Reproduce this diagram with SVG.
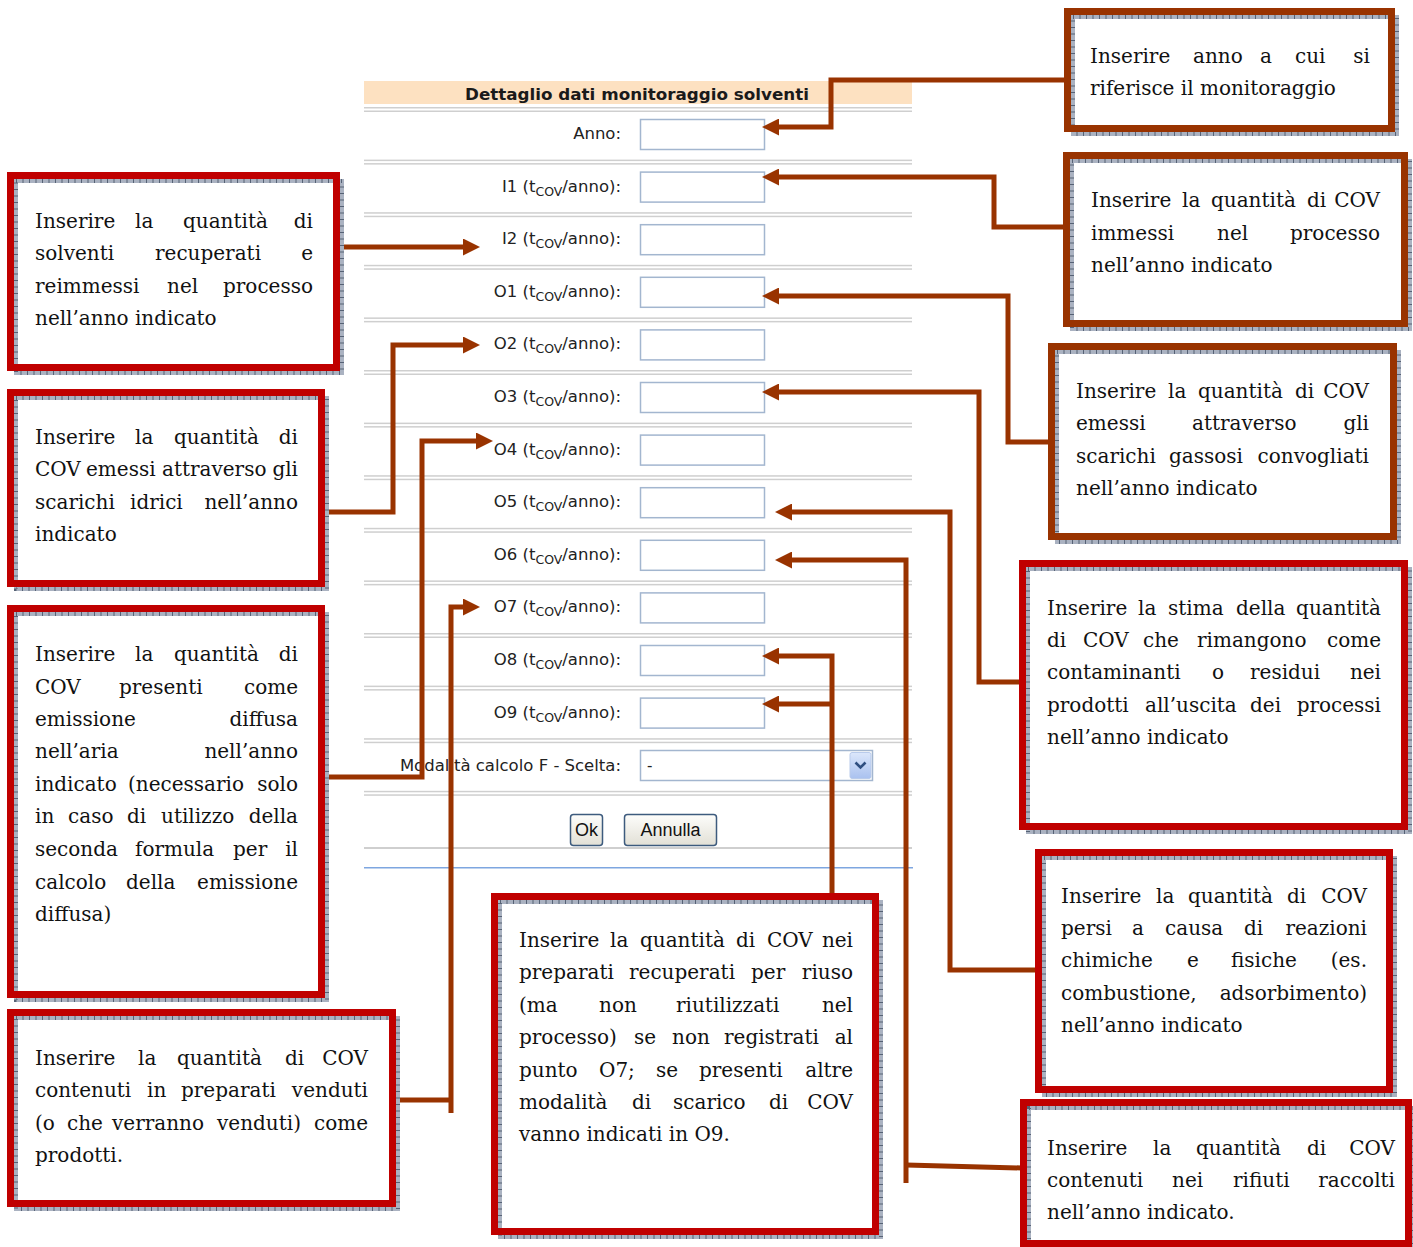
<svg xmlns="http://www.w3.org/2000/svg" width="1413" height="1247" viewBox="0 0 1413 1247">
<style>
.bg{fill:#ffffff}
.sep{fill:#cfcfcf}
.inp{fill:#ffffff;stroke:#a3b6cf;stroke-width:1.5}
.lbl{font-family:"DejaVu Sans",Verdana,sans-serif;font-size:16.5px;fill:#222222;text-anchor:end}
.hdr{font-family:"DejaVu Sans",Verdana,sans-serif;font-size:16px;font-weight:bold;fill:#1a1a1a;text-anchor:middle}
.btn{fill:url(#btnGrad);stroke:#3d5b7e;stroke-width:1.5}
.btxt{font-family:"Liberation Sans",Arial,sans-serif;font-size:18px;fill:#111;text-anchor:middle}
.con{fill:none;stroke:#993300;stroke-width:5;stroke-linejoin:miter}
.arr{marker-end:url(#ah)}
.fill{fill:#ffffff}
.g1{fill:none;stroke:#aab2c1;stroke-width:4}
.g2{fill:none;stroke:#566275;stroke-width:4;stroke-dasharray:1 5.5}
.brn{fill:none;stroke:#993300;stroke-width:7}
.red{fill:none;stroke:#c00000;stroke-width:7}
.t{font-family:"DejaVu Serif","Liberation Serif",serif;font-size:20px;fill:#111}
.e{text-anchor:end}
</style>
<defs>
<linearGradient id="btnGrad" x1="0" y1="0" x2="0" y2="1">
<stop offset="0" stop-color="#fdfdfb"/>
<stop offset="1" stop-color="#e2e0d6"/>
</linearGradient>
<linearGradient id="selGrad" x1="0" y1="0" x2="0" y2="1">
<stop offset="0" stop-color="#dce7fb"/>
<stop offset="1" stop-color="#a9c1ef"/>
</linearGradient>
<marker id="ah" markerUnits="userSpaceOnUse" markerWidth="17" markerHeight="17" refX="7" refY="8.5" orient="auto">
<path d="M0,0 L17,8.5 L0,17 z" fill="#993300"/>
</marker>
</defs>
<rect class="bg" x="0" y="0" width="1413" height="1247"/>

<g id="form">
<rect x="364" y="81" width="548" height="23" fill="#fde1c1"/>
<text class="hdr" x="637" y="100" textLength="344" lengthAdjust="spacingAndGlyphs">Dettaglio dati monitoraggio solventi</text>
<g id="separators">
<rect class="sep" x="364" y="107" width="548" height="1.5"/><rect class="sep" x="364" y="110.5" width="548" height="1.5"/>
<rect class="sep" x="364" y="159.6" width="548" height="1.5"/><rect class="sep" x="364" y="163.1" width="548" height="1.5"/>
<rect class="sep" x="364" y="212.2" width="548" height="1.5"/><rect class="sep" x="364" y="215.7" width="548" height="1.5"/>
<rect class="sep" x="364" y="264.8" width="548" height="1.5"/><rect class="sep" x="364" y="268.3" width="548" height="1.5"/>
<rect class="sep" x="364" y="317.4" width="548" height="1.5"/><rect class="sep" x="364" y="320.9" width="548" height="1.5"/>
<rect class="sep" x="364" y="370" width="548" height="1.5"/><rect class="sep" x="364" y="373.5" width="548" height="1.5"/>
<rect class="sep" x="364" y="422.6" width="548" height="1.5"/><rect class="sep" x="364" y="426.1" width="548" height="1.5"/>
<rect class="sep" x="364" y="475.2" width="548" height="1.5"/><rect class="sep" x="364" y="478.7" width="548" height="1.5"/>
<rect class="sep" x="364" y="527.8" width="548" height="1.5"/><rect class="sep" x="364" y="531.3" width="548" height="1.5"/>
<rect class="sep" x="364" y="580.4" width="548" height="1.5"/><rect class="sep" x="364" y="583.9" width="548" height="1.5"/>
<rect class="sep" x="364" y="633" width="548" height="1.5"/><rect class="sep" x="364" y="636.5" width="548" height="1.5"/>
<rect class="sep" x="364" y="685.6" width="548" height="1.5"/><rect class="sep" x="364" y="689.1" width="548" height="1.5"/>
<rect class="sep" x="364" y="738.2" width="548" height="1.5"/><rect class="sep" x="364" y="741.7" width="548" height="1.5"/>
<rect class="sep" x="364" y="790.8" width="548" height="1.5"/><rect class="sep" x="364" y="794.3" width="548" height="1.5"/>
<rect class="sep" x="364" y="847" width="548" height="2"/>
<rect x="364" y="867" width="549" height="1.5" fill="#7ea6e0"/>
</g>
<g id="row-anno"><text class="lbl" x="621" y="139">Anno:</text><rect class="inp" x="640.5" y="119.5" width="124" height="30"/></g>
<g id="row-i1"><text class="lbl" x="621" y="191.6">I1 (t<tspan dy="4" font-size="12.5">COV</tspan><tspan dy="-4">/anno):</tspan></text><rect class="inp" x="640.5" y="172.1" width="124" height="30"/></g>
<g id="row-i2"><text class="lbl" x="621" y="244.2">I2 (t<tspan dy="4" font-size="12.5">COV</tspan><tspan dy="-4">/anno):</tspan></text><rect class="inp" x="640.5" y="224.7" width="124" height="30"/></g>
<g id="row-o1"><text class="lbl" x="621" y="296.8">O1 (t<tspan dy="4" font-size="12.5">COV</tspan><tspan dy="-4">/anno):</tspan></text><rect class="inp" x="640.5" y="277.3" width="124" height="30"/></g>
<g id="row-o2"><text class="lbl" x="621" y="349.4">O2 (t<tspan dy="4" font-size="12.5">COV</tspan><tspan dy="-4">/anno):</tspan></text><rect class="inp" x="640.5" y="329.9" width="124" height="30"/></g>
<g id="row-o3"><text class="lbl" x="621" y="402">O3 (t<tspan dy="4" font-size="12.5">COV</tspan><tspan dy="-4">/anno):</tspan></text><rect class="inp" x="640.5" y="382.5" width="124" height="30"/></g>
<g id="row-o4"><text class="lbl" x="621" y="454.6">O4 (t<tspan dy="4" font-size="12.5">COV</tspan><tspan dy="-4">/anno):</tspan></text><rect class="inp" x="640.5" y="435.1" width="124" height="30"/></g>
<g id="row-o5"><text class="lbl" x="621" y="507.2">O5 (t<tspan dy="4" font-size="12.5">COV</tspan><tspan dy="-4">/anno):</tspan></text><rect class="inp" x="640.5" y="487.7" width="124" height="30"/></g>
<g id="row-o6"><text class="lbl" x="621" y="559.8">O6 (t<tspan dy="4" font-size="12.5">COV</tspan><tspan dy="-4">/anno):</tspan></text><rect class="inp" x="640.5" y="540.3" width="124" height="30"/></g>
<g id="row-o7"><text class="lbl" x="621" y="612.4">O7 (t<tspan dy="4" font-size="12.5">COV</tspan><tspan dy="-4">/anno):</tspan></text><rect class="inp" x="640.5" y="592.9" width="124" height="30"/></g>
<g id="row-o8"><text class="lbl" x="621" y="665">O8 (t<tspan dy="4" font-size="12.5">COV</tspan><tspan dy="-4">/anno):</tspan></text><rect class="inp" x="640.5" y="645.5" width="124" height="30"/></g>
<g id="row-o9"><text class="lbl" x="621" y="717.6">O9 (t<tspan dy="4" font-size="12.5">COV</tspan><tspan dy="-4">/anno):</tspan></text><rect class="inp" x="640.5" y="698.1" width="124" height="30"/></g>
<g id="row-modalita">
<text class="lbl" x="621" y="771">Modalità calcolo F - Scelta:</text>
<rect class="inp" x="640.5" y="750.5" width="232" height="30"/>
<text x="647" y="771" font-family="DejaVu Sans,Verdana,sans-serif" font-size="15" fill="#222">-</text>
<rect x="850" y="752.5" width="21" height="26" rx="2" fill="url(#selGrad)" stroke="#b9cbeb" stroke-width="1"/>
<path d="M855.5,762.5 L860.5,767.5 L865.5,762.5" fill="none" stroke="#2f4f80" stroke-width="2.6"/>
</g>
<g id="btn-ok"><rect class="btn" x="570.5" y="814.5" width="32" height="31" rx="3"/><text class="btxt" x="586.5" y="836">Ok</text></g>
<g id="btn-annulla"><rect class="btn" x="624.5" y="814.5" width="92" height="31" rx="3"/><text class="btxt" x="670.5" y="836">Annulla</text></g>
</g>

<g id="connectors">
<path class="con arr" d="M1066,80 H831 V127 H772"/>
<path class="con arr" d="M1065,227 H994 V177 H772"/>
<path class="con arr" d="M1050,442 H1008 V296 H772"/>
<path class="con arr" d="M1021,682 H979 V392 H772"/>
<path class="con arr" d="M1037,970 H950 V512 H785"/>
<path class="con arr" d="M906,1183 V560 H785"/>
<path class="con" d="M906,1165 L1022,1168"/>
<path class="con arr" d="M832,894 V656 H772"/>
<path class="con arr" d="M832,704 H772"/>
<path class="con arr" d="M339,247 H470"/>
<path class="con arr" d="M324,512 H393 V345 H470"/>
<path class="con arr" d="M324,777 H422 V441 H483"/>
<path class="con" d="M395,1100 H451"/>
<path class="con arr" d="M451,1113 V607 H470"/>
</g>

<g id="box-anno">
<rect class="fill" x="1064" y="8" width="331" height="124"/>
<path class="g1" d="M1073,17 H1397 V134 H1073 Z"/><path class="g2" d="M1073,17 H1397 V134 H1073 Z"/>
<rect class="brn" x="1067.5" y="11.5" width="324" height="117"/>
<text class="t"><tspan x="1090" y="63">Inserire</tspan><tspan x="1193" y="63">anno</tspan><tspan x="1260" y="63">a</tspan><tspan x="1295" y="63">cui</tspan><tspan class="e" x="1370" y="63">si</tspan><tspan x="1090" y="95">riferisce il monitoraggio</tspan></text>
</g>

<g id="box-i1">
<rect class="fill" x="1063" y="152" width="345" height="175"/>
<path class="g1" d="M1072,161 H1410 V329 H1072 Z"/><path class="g2" d="M1072,161 H1410 V329 H1072 Z"/>
<rect class="brn" x="1066.5" y="155.5" width="338" height="168"/>
<text class="t"><tspan x="1091" y="207">Inserire</tspan><tspan x="1182" y="207">la</tspan><tspan x="1211" y="207">quantità</tspan><tspan x="1307" y="207">di</tspan><tspan class="e" x="1380" y="207">COV</tspan><tspan x="1091" y="240">immessi</tspan><tspan x="1217" y="240">nel</tspan><tspan class="e" x="1380" y="240">processo</tspan><tspan x="1091" y="272">nell’anno indicato</tspan></text>
</g>

<g id="box-o1">
<rect class="fill" x="1048" y="343" width="349" height="197"/>
<path class="g1" d="M1057,352 H1399 V542 H1057 Z"/><path class="g2" d="M1057,352 H1399 V542 H1057 Z"/>
<rect class="brn" x="1051.5" y="346.5" width="342" height="190"/>
<text class="t"><tspan x="1076" y="398">Inserire</tspan><tspan x="1168" y="398">la</tspan><tspan x="1198" y="398">quantità</tspan><tspan x="1295" y="398">di</tspan><tspan class="e" x="1369" y="398">COV</tspan><tspan x="1076" y="430">emessi</tspan><tspan x="1192" y="430">attraverso</tspan><tspan class="e" x="1369" y="430">gli</tspan><tspan x="1076" y="463">scarichi</tspan><tspan x="1169" y="463">gassosi</tspan><tspan class="e" x="1369" y="463">convogliati</tspan><tspan x="1076" y="495">nell’anno indicato</tspan></text>
</g>

<g id="box-o3">
<rect class="fill" x="1019" y="560" width="389" height="270"/>
<path class="g1" d="M1028,569 H1410 V832 H1028 Z"/><path class="g2" d="M1028,569 H1410 V832 H1028 Z"/>
<rect class="red" x="1022.5" y="563.5" width="382" height="263"/>
<text class="t"><tspan x="1047" y="615">Inserire</tspan><tspan x="1138" y="615">la</tspan><tspan x="1168" y="615">stima</tspan><tspan x="1236" y="615">della</tspan><tspan class="e" x="1381" y="615">quantità</tspan><tspan x="1047" y="647">di</tspan><tspan x="1083" y="647">COV</tspan><tspan x="1143" y="647">che</tspan><tspan x="1197" y="647">rimangono</tspan><tspan class="e" x="1381" y="647">come</tspan><tspan x="1047" y="679">contaminanti</tspan><tspan x="1212" y="679">o</tspan><tspan x="1250" y="679">residui</tspan><tspan class="e" x="1381" y="679">nei</tspan><tspan x="1047" y="712">prodotti</tspan><tspan x="1145" y="712">all’uscita</tspan><tspan x="1250" y="712">dei</tspan><tspan class="e" x="1381" y="712">processi</tspan><tspan x="1047" y="744">nell’anno indicato</tspan></text>
</g>

<g id="box-o5">
<rect class="fill" x="1035" y="849" width="358" height="244"/>
<path class="g1" d="M1044,858 H1395 V1095 H1044 Z"/><path class="g2" d="M1044,858 H1395 V1095 H1044 Z"/>
<rect class="red" x="1038.5" y="852.5" width="351" height="237"/>
<text class="t"><tspan x="1061" y="903">Inserire</tspan><tspan x="1156" y="903">la</tspan><tspan x="1188" y="903">quantità</tspan><tspan x="1287" y="903">di</tspan><tspan class="e" x="1367" y="903">COV</tspan><tspan x="1061" y="935">persi</tspan><tspan x="1132" y="935">a</tspan><tspan x="1165" y="935">causa</tspan><tspan x="1244" y="935">di</tspan><tspan class="e" x="1367" y="935">reazioni</tspan><tspan x="1061" y="967">chimiche</tspan><tspan x="1187" y="967">e</tspan><tspan x="1231" y="967">fisiche</tspan><tspan class="e" x="1367" y="967">(es.</tspan><tspan x="1061" y="1000">combustione,</tspan><tspan class="e" x="1367" y="1000">adsorbimento)</tspan><tspan x="1061" y="1032">nell’anno indicato</tspan></text>
</g>

<g id="box-o6">
<rect class="fill" x="1020" y="1099" width="392" height="150"/>
<path class="g1" d="M1029,1108 H1414 V1250 H1029 Z"/><path class="g2" d="M1029,1108 H1414 V1250 H1029 Z"/>
<rect class="red" x="1023.5" y="1102.5" width="385" height="141"/>
<text class="t"><tspan x="1047" y="1155">Inserire</tspan><tspan x="1153" y="1155">la</tspan><tspan x="1196" y="1155">quantità</tspan><tspan x="1307" y="1155">di</tspan><tspan class="e" x="1395" y="1155">COV</tspan><tspan x="1047" y="1187">contenuti</tspan><tspan x="1172" y="1187">nei</tspan><tspan x="1233" y="1187">rifiuti</tspan><tspan class="e" x="1395" y="1187">raccolti</tspan><tspan x="1047" y="1219">nell’anno indicato.</tspan></text>
</g>

<g id="box-o8-o9">
<rect class="fill" x="491" y="893" width="388" height="342"/>
<path class="g1" d="M500,902 H881 V1237 H500 Z"/><path class="g2" d="M500,902 H881 V1237 H500 Z"/>
<rect class="red" x="494.5" y="896.5" width="381" height="335"/>
<text class="t"><tspan x="519" y="947">Inserire</tspan><tspan x="610" y="947">la</tspan><tspan x="640" y="947">quantità</tspan><tspan x="736" y="947">di</tspan><tspan x="767" y="947">COV</tspan><tspan class="e" x="853" y="947">nei</tspan><tspan x="519" y="979">preparati</tspan><tspan x="629" y="979">recuperati</tspan><tspan x="751" y="979">per</tspan><tspan class="e" x="853" y="979">riuso</tspan><tspan x="519" y="1012">(ma</tspan><tspan x="599" y="1012">non</tspan><tspan x="676" y="1012">riutilizzati</tspan><tspan class="e" x="853" y="1012">nel</tspan><tspan x="519" y="1044">processo)</tspan><tspan x="634" y="1044">se</tspan><tspan x="672" y="1044">non</tspan><tspan x="724" y="1044">registrati</tspan><tspan class="e" x="853" y="1044">al</tspan><tspan x="519" y="1077">punto</tspan><tspan x="599" y="1077">O7;</tspan><tspan x="656" y="1077">se</tspan><tspan x="699" y="1077">presenti</tspan><tspan class="e" x="853" y="1077">altre</tspan><tspan x="519" y="1109">modalità</tspan><tspan x="632" y="1109">di</tspan><tspan x="673" y="1109">scarico</tspan><tspan x="769" y="1109">di</tspan><tspan class="e" x="853" y="1109">COV</tspan><tspan x="519" y="1141">vanno indicati in O9.</tspan></text>
</g>

<g id="box-i2">
<rect class="fill" x="7" y="172" width="333" height="199"/>
<path class="g1" d="M16,181 H342 V373 H16 Z"/><path class="g2" d="M16,181 H342 V373 H16 Z"/>
<rect class="red" x="10.5" y="175.5" width="326" height="192"/>
<text class="t"><tspan x="35" y="228">Inserire</tspan><tspan x="135" y="228">la</tspan><tspan x="183" y="228">quantità</tspan><tspan class="e" x="313" y="228">di</tspan><tspan x="35" y="260">solventi</tspan><tspan x="155" y="260">recuperati</tspan><tspan class="e" x="313" y="260">e</tspan><tspan x="35" y="293">reimmessi</tspan><tspan x="167" y="293">nel</tspan><tspan class="e" x="313" y="293">processo</tspan><tspan x="35" y="325">nell’anno indicato</tspan></text>
</g>

<g id="box-o2">
<rect class="fill" x="7" y="389" width="318" height="198"/>
<path class="g1" d="M16,398 H327 V589 H16 Z"/><path class="g2" d="M16,398 H327 V589 H16 Z"/>
<rect class="red" x="10.5" y="392.5" width="311" height="191"/>
<text class="t"><tspan x="35" y="444">Inserire</tspan><tspan x="135" y="444">la</tspan><tspan x="174" y="444">quantità</tspan><tspan class="e" x="298" y="444">di</tspan><tspan x="35" y="476">COV</tspan><tspan x="86" y="476">emessi</tspan><tspan x="162" y="476">attraverso</tspan><tspan class="e" x="298" y="476">gli</tspan><tspan x="35" y="509">scarichi</tspan><tspan x="130" y="509">idrici</tspan><tspan class="e" x="298" y="509">nell’anno</tspan><tspan x="35" y="541">indicato</tspan></text>
</g>

<g id="box-o4">
<rect class="fill" x="7" y="605" width="318" height="393"/>
<path class="g1" d="M16,614 H327 V1000 H16 Z"/><path class="g2" d="M16,614 H327 V1000 H16 Z"/>
<rect class="red" x="10.5" y="608.5" width="311" height="386"/>
<text class="t"><tspan x="35" y="661">Inserire</tspan><tspan x="135" y="661">la</tspan><tspan x="174" y="661">quantità</tspan><tspan class="e" x="298" y="661">di</tspan><tspan x="35" y="694">COV</tspan><tspan x="119" y="694">presenti</tspan><tspan class="e" x="298" y="694">come</tspan><tspan x="35" y="726">emissione</tspan><tspan class="e" x="298" y="726">diffusa</tspan><tspan x="35" y="758">nell’aria</tspan><tspan class="e" x="298" y="758">nell’anno</tspan><tspan x="35" y="791">indicato</tspan><tspan x="128" y="791">(necessario</tspan><tspan class="e" x="298" y="791">solo</tspan><tspan x="35" y="823">in</tspan><tspan x="68" y="823">caso</tspan><tspan x="127" y="823">di</tspan><tspan x="161" y="823">utilizzo</tspan><tspan class="e" x="298" y="823">della</tspan><tspan x="35" y="856">seconda</tspan><tspan x="135" y="856">formula</tspan><tspan x="233" y="856">per</tspan><tspan class="e" x="298" y="856">il</tspan><tspan x="35" y="889">calcolo</tspan><tspan x="126" y="889">della</tspan><tspan class="e" x="298" y="889">emissione</tspan><tspan x="35" y="921">diffusa)</tspan></text>
</g>

<g id="box-o7">
<rect class="fill" x="7" y="1009" width="389" height="198"/>
<path class="g1" d="M16,1018 H398 V1209 H16 Z"/><path class="g2" d="M16,1018 H398 V1209 H16 Z"/>
<rect class="red" x="10.5" y="1012.5" width="382" height="191"/>
<text class="t"><tspan x="35" y="1065">Inserire</tspan><tspan x="138" y="1065">la</tspan><tspan x="177" y="1065">quantità</tspan><tspan x="285" y="1065">di</tspan><tspan class="e" x="368" y="1065">COV</tspan><tspan x="35" y="1097">contenuti</tspan><tspan x="147" y="1097">in</tspan><tspan x="181" y="1097">preparati</tspan><tspan class="e" x="368" y="1097">venduti</tspan><tspan x="35" y="1130">(o</tspan><tspan x="67" y="1130">che</tspan><tspan x="112" y="1130">verranno</tspan><tspan x="217" y="1130">venduti)</tspan><tspan class="e" x="368" y="1130">come</tspan><tspan x="35" y="1162">prodotti.</tspan></text>
</g>
</svg>
